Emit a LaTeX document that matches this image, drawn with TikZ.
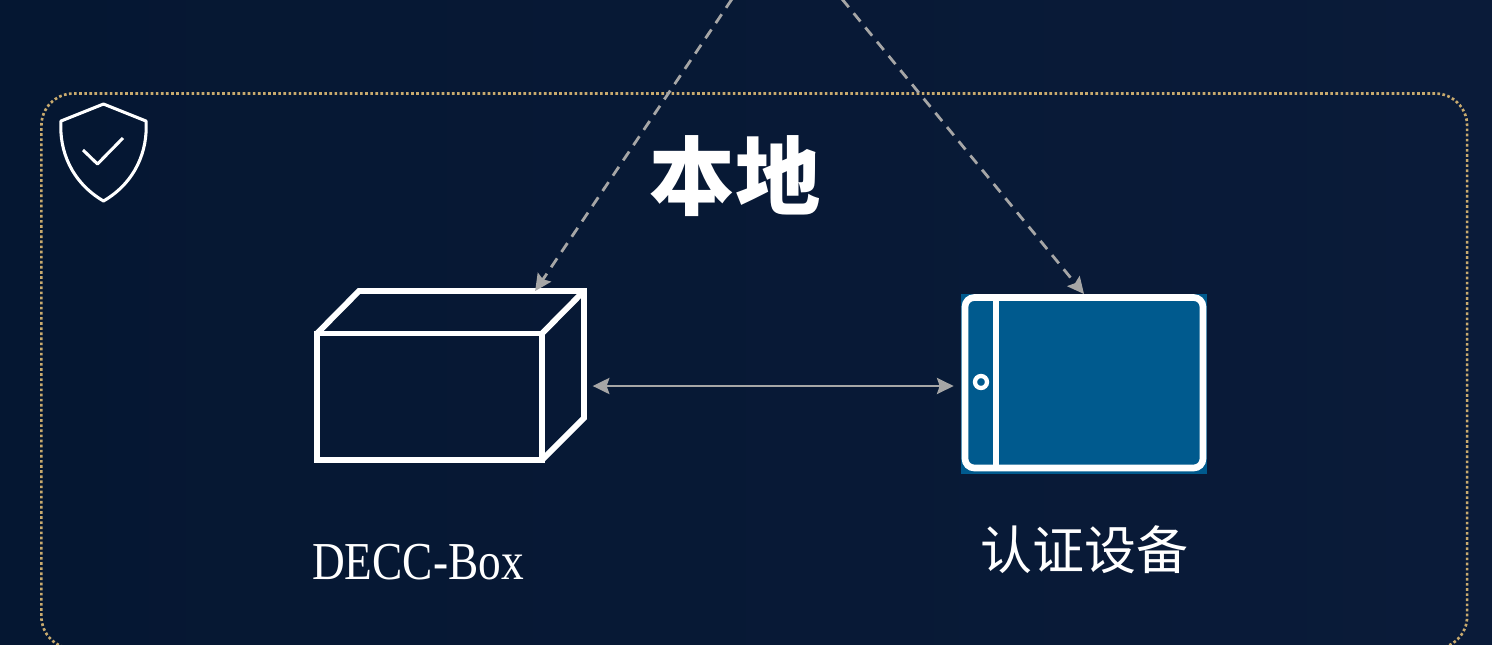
\documentclass[tikz,border=0pt]{standalone}
\usepackage{fontspec}
\setmainfont{Liberation Serif}
\newfontfamily\cjk{Noto Sans CJK SC}
\usetikzlibrary{arrows.meta,calc}

\begin{document}
\begin{tikzpicture}[x=0.75pt,y=0.75pt,yscale=-1,xscale=1,
  whiteline/.style={draw={rgb, 255:red, 255; green, 255; blue, 255 },line join=miter},
  greyline/.style={draw={rgb, 255:red, 166; green, 166; blue, 166 }},
  place/.style={inner sep=0pt,outer sep=0pt,minimum width=#1}
]
\useasboundingbox (0,0) rectangle (1492,644);
\clip (0,0) rectangle (1492,644);

%Shape: Rectangle, the background
\shade [left color={rgb, 255:red, 5; green, 23; blue, 50 },right color={rgb, 255:red, 10; green, 27; blue, 57 }] (0,0) rectangle (1492,644);

%Shape: Rounded Rect, the dotted frame
\node (frame) [place=1425.7*0.75pt,minimum height=555*0.75pt,rounded corners=24pt,draw={rgb, 255:red, 200; green, 170; blue, 110 },line width=2pt,dash pattern=on 2pt off 1.83pt] at (754.25,371) {};

%Shield
\draw [whiteline,line width=2.3pt,line join=round] (103.5,104) -- (146,121) .. controls (148,150) and (136,182) .. (103.5,201) .. controls (71,182) and (59,150) .. (61,121) -- cycle ;
\draw [whiteline,line width=2.3pt,line join=round] (83,150) -- (97.5,164) -- (123,138) ;

%Title
\node (title) [text=white,font=\cjk\bfseries\fontsize{64}{64}\selectfont] at (735,176) {本地};

%Box, named shape and its strokes
\node (box) [place=267*0.75pt,minimum height=169*0.75pt] at (450.5,375.5) {};
\draw [whiteline,line width=4.4pt] (317,333.5) rectangle (542,460) ;
\draw [whiteline,line width=4.4pt] (317,333.5) -- (359,291) -- (584,291) -- (584,418) -- (542,460) ;
\draw [whiteline,line width=4.4pt] (542,333.5) -- (584,291) ;
\node (boxlabel) [text=white,xscale=0.85,font=\fontsize{40}{40}\selectfont] at (418,562) {DECC-Box};

%Tablet, named shape and its strokes
\node (tablet) [place=246*0.75pt,minimum height=180*0.75pt,fill={rgb, 255:red, 0; green, 90; blue, 142 }] at (1084,384) {};
\draw [whiteline,line width=5pt,rounded corners=7pt] (965,297.5) rectangle (1203,468) ;
\draw [whiteline,line width=4.5pt] (995.5,297.5) -- (995.5,468) ;
\draw [whiteline,line width=3.2pt] (981,382) circle [radius=6] ;
\node (tabletlabel) [text=white,font=\cjk\fontsize{39}{39}\selectfont] at (1084,550) {认证设备};

%Connectors
\coordinate (midline) at (770,386);
\coordinate (upleft) at (732,-1);
\coordinate (upright) at (842,-1);
\draw [greyline,line width=2pt,{Stealth[length=12.5pt,width=12pt,inset=2pt]}-{Stealth[length=12.5pt,width=12pt,inset=2pt]},shorten <=6.5pt,shorten >=5.5pt] (box.east |- midline) -- (tablet.west |- midline) ;
\draw [greyline,line width=2.1pt,dash pattern=on 8pt off 5.8pt,-{Stealth[length=12.5pt,width=12pt,inset=2pt]}] (upleft) -- ($(box.north west)!0.817!(box.north east)$) ;
\draw [greyline,line width=2.1pt,dash pattern=on 8pt off 5.8pt,-{Stealth[length=12.5pt,width=12pt,inset=2pt]}] (upright) -- (tablet.north) ;

\end{tikzpicture}
\end{document}
